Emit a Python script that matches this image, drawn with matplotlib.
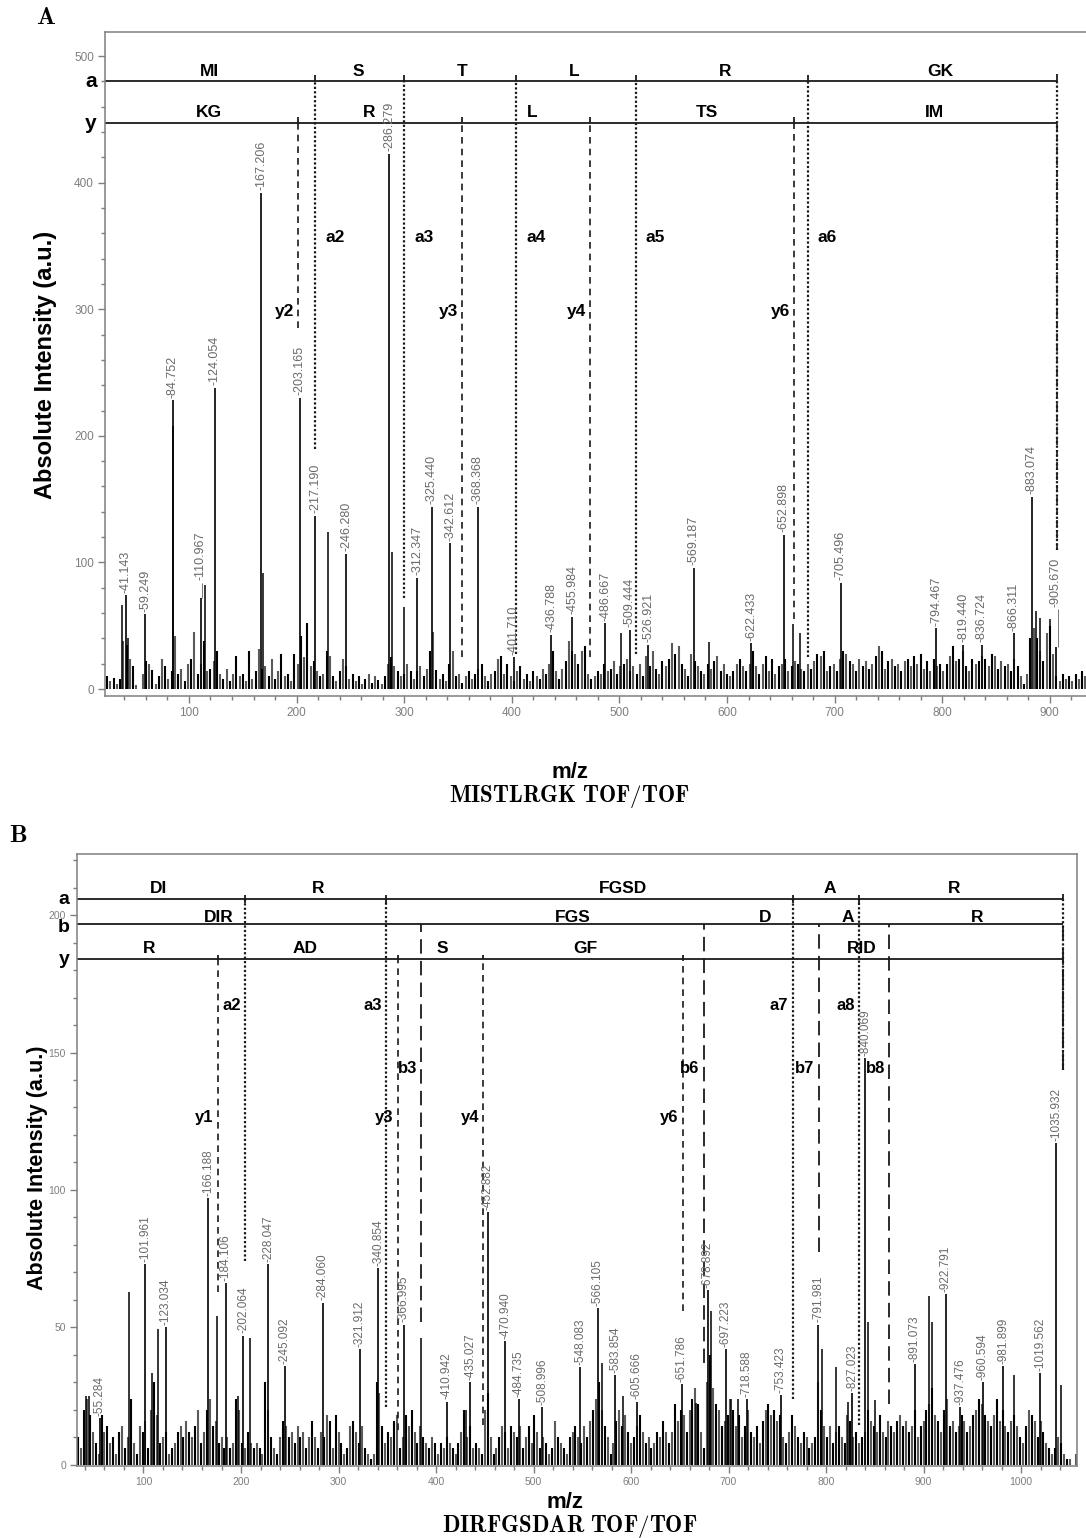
import numpy as np
import matplotlib
matplotlib.use("Agg")
import matplotlib.pyplot as plt
from matplotlib.ticker import MultipleLocator
from matplotlib.transforms import blended_transform_factory

plt.rcParams['font.family'] = ['Liberation Sans', 'DejaVu Sans']
plt.rcParams['mathtext.fontset'] = 'cm'

W, H = 1086, 1538

# ---------------- panel A : MISTLRGK ----------------
a_lab_mz = [41.143, 59.249, 84.752, 110.967, 124.054, 167.206, 203.165, 217.190, 246.280, 286.279,
            312.347, 325.440, 342.612, 368.368, 401.710, 436.788, 455.984, 486.667, 509.444, 526.921,
            569.187, 622.433, 652.898, 705.496, 794.467, 819.440, 836.724, 866.311, 883.074, 905.670]
a_lab_int = [74, 59, 228, 72, 238, 392, 230, 137, 107, 423,
             88, 144, 115, 144, 25, 43, 57, 52, 47, 35,
             96, 36, 122, 84, 48, 35, 35, 44, 152, 33]
a_oth_mz = [37.5, 43.5, 85.6, 114.8, 168.8, 209.5, 229.5, 288.5, 299.8, 501.2, 583.0, 661.0, 667.5,
            887.0, 891.0, 900.0]
a_oth_int = [66, 40, 208, 82, 92, 52, 124, 108, 65, 44, 37, 51, 44, 62, 56, 55]
# labels lifted above their peak (drawn with a leader)
a_lift_mz = [110.967, 905.670]
a_lift_y = [86, 65]
# baseline noise, every 3 m/z from 24
a_noise_start = 24
a_noise = [10, 6, 9, 4, 8, 38, 35, 24, 18, 3, 0, 12, 22, 20, 15, 4, 10, 24, 18, 8,
           14, 42, 12, 16, 6, 20, 24, 45, 12, 20, 38, 14, 16, 22, 30, 12, 8, 16, 6, 12,
           26, 10, 12, 6, 30, 8, 14, 32, 16, 18, 10, 24, 8, 14, 28, 10, 12, 6, 28, 20,
           42, 25, 52, 18, 22, 14, 10, 12, 30, 26, 10, 6, 14, 24, 18, 8, 12, 6, 10, 4,
           8, 12, 5, 10, 7, 4, 10, 20, 25, 18, 14, 10, 12, 20, 14, 8, 14, 18, 10, 16,
           30, 45, 15, 8, 12, 6, 20, 30, 10, 12, 5, 10, 14, 8, 12, 16, 20, 10, 6, 12,
           14, 24, 26, 12, 20, 10, 6, 14, 18, 8, 12, 6, 14, 10, 8, 16, 12, 20, 30, 14,
           8, 16, 22, 38, 30, 28, 20, 30, 34, 12, 8, 10, 14, 12, 20, 14, 16, 22, 12, 18,
           20, 24, 14, 18, 12, 20, 10, 26, 18, 30, 16, 12, 22, 18, 24, 36, 28, 34, 20, 16,
           10, 28, 22, 18, 14, 12, 20, 16, 22, 26, 14, 20, 12, 10, 14, 20, 24, 18, 14, 20,
           30, 18, 12, 20, 26, 14, 24, 12, 18, 20, 24, 14, 18, 22, 20, 16, 14, 20, 16, 22,
           28, 26, 30, 14, 18, 20, 14, 24, 30, 28, 22, 20, 14, 24, 18, 22, 16, 20, 26, 34,
           30, 16, 22, 24, 18, 20, 14, 22, 24, 18, 26, 20, 28, 16, 22, 14, 24, 18, 20, 14,
           20, 26, 34, 22, 24, 30, 18, 14, 24, 20, 22, 26, 24, 18, 28, 26, 16, 22, 18, 20,
           14, 24, 18, 10, 4, 12, 40, 48, 40, 30, 22, 44, 50, 28, 10, 6, 12, 8, 10, 6,
           12, 8, 14, 10]

# fragment ladder A
a_rows_y = {'a': 480, 'y': 447}
a_end = 906.7
a_ion_a_mz = [217.2, 300.0, 404.0, 515.0, 675.0]
a_ion_a_name = ['a2', 'a3', 'a4', 'a5', 'a6']
a_ion_a_low = [190, 72, 28, 28, 25]
a_ion_y_mz = [201.0, 354.0, 473.0, 662.0]
a_ion_y_name = ['y2', 'y3', 'y4', 'y6']
a_ion_y_low = [285, 25, 25, 55]
a_seq_a = ['MI', 'S', 'T', 'L', 'R', 'GK']
a_seq_a_mz = [119, 257, 354, 458, 598, 798]
a_seq_y = ['KG', 'R', 'L', 'TS', 'IM']
a_seq_y_mz = [119, 267, 419, 581, 793]

# ---------------- panel B : DIRFGSDAR ----------------
b_lab_mz = [55.284, 101.961, 123.034, 166.188, 184.106, 202.064, 228.047, 245.092, 284.060, 321.912,
            340.854, 366.995, 410.942, 435.027, 452.882, 470.940, 484.735, 508.996, 548.083, 566.105,
            583.854, 605.666, 651.786, 678.892, 697.223, 718.588, 753.423, 791.981, 827.023, 840.069,
            891.073, 922.791, 937.476, 960.594, 981.899, 1019.562, 1035.932]
b_lab_int = [17, 73, 50, 97, 66, 47, 73, 36, 59, 42,
             71.5, 51, 23, 30, 92, 45, 24, 21, 35.6, 57,
             32.7, 23, 29.5, 63.6, 42, 24, 25.5, 51, 26, 148,
             36.7, 62, 21, 30, 36, 33.5, 117]
b_oth_mz = [41.0, 44.0, 85.5, 109.0, 114.6, 175.0, 197.0, 209.5, 385.0, 431.0, 570.0, 592.0, 667.0,
            682.0, 703.0, 710.0, 740.0, 796.0, 810.0, 823.0, 843.0, 850.0, 906.0, 908.5, 993.0, 1041.0]
b_oth_int = [25, 25, 63, 33.5, 49.5, 54, 25, 46, 46, 20, 37, 25, 22.5,
             56, 24, 24, 20, 42, 35.6, 23, 52, 23.6, 61.5, 52, 32.7, 29]
b_noise_start = 33
b_noise = [10, 6, 20, 24, 18, 12, 8, 4, 18, 12, 14, 8, 10, 4, 12, 14, 6, 10, 24, 8,
           4, 14, 12, 16, 6, 20, 30, 18, 8, 10, 12, 4, 6, 8, 12, 14, 10, 16, 12, 10,
           14, 20, 8, 12, 20, 24, 14, 16, 8, 10, 6, 10, 6, 8, 24, 20, 8, 6, 12, 8,
           6, 8, 6, 4, 30, 20, 10, 6, 4, 10, 16, 14, 10, 12, 8, 14, 10, 12, 6, 10,
           16, 10, 6, 12, 10, 18, 16, 6, 18, 12, 8, 4, 6, 14, 16, 12, 8, 14, 6, 4,
           2, 4, 30, 26, 14, 8, 12, 10, 16, 18, 6, 10, 18, 14, 20, 12, 8, 14, 10, 8,
           6, 10, 8, 4, 8, 6, 10, 8, 6, 4, 8, 12, 20, 10, 14, 6, 8, 6, 4, 20,
           26, 10, 4, 6, 10, 14, 12, 6, 14, 12, 10, 14, 6, 10, 14, 8, 18, 12, 6, 10,
           8, 4, 6, 16, 10, 8, 6, 4, 10, 12, 14, 10, 8, 14, 10, 16, 20, 24, 30, 20,
           14, 10, 4, 8, 16, 20, 14, 18, 12, 8, 10, 14, 18, 12, 8, 10, 6, 8, 12, 10,
           16, 12, 8, 12, 22, 16, 20, 18, 12, 20, 24, 28, 22, 12, 6, 30, 40, 28, 22, 20,
           14, 16, 18, 24, 20, 14, 18, 10, 14, 20, 12, 10, 14, 8, 16, 20, 22, 18, 20, 16,
           18, 10, 8, 12, 18, 14, 10, 8, 12, 10, 6, 8, 10, 30, 20, 14, 10, 14, 8, 12,
           14, 10, 8, 18, 16, 10, 12, 8, 10, 12, 20, 16, 14, 12, 18, 12, 10, 16, 14, 12,
           16, 18, 14, 16, 12, 14, 20, 10, 14, 16, 20, 22, 28, 18, 16, 12, 20, 24, 14, 16,
           12, 14, 18, 16, 12, 14, 18, 20, 24, 22, 18, 16, 14, 18, 24, 16, 20, 14, 12, 16,
           18, 14, 10, 8, 14, 20, 18, 16, 10, 16, 12, 8, 6, 4, 6, 10, 8, 4, 2, 2,
           0, 4]

b_rows_y = {'a': 205.8, 'b': 196.7, 'y': 184.0}
b_end = 1043.0
b_ion_a_mz = [204.6, 348.7, 766.0, 833.8]
b_ion_a_name = ['a2', 'a3', 'a7', 'a8']
b_ion_a_low = [74, 21, 24, 14.5]
b_ion_b_mz = [385.0, 675.0, 792.8, 865.0]
b_ion_b_name = ['b3', 'b6', 'b7', 'b8']
b_ion_b_low = [52, 37, 77.5, 22]
b_ion_y_mz = [176.4, 361.0, 448.7, 653.0]
b_ion_y_name = ['y1', 'y3', 'y4', 'y6']
b_ion_y_low = [63, 12.7, 14.5, 56]
b_seq_a = ['DI', 'R', 'FGSD', 'A', 'R']
b_seq_a_mz = [115, 279.5, 592, 804, 931]
b_seq_b = ['DIR', 'FGS', 'D', 'A', 'R']
b_seq_b_mz = [177, 540.5, 737.8, 822.6, 955]
b_seq_y = ['R', 'AD', 'S', 'GF', 'RID']
b_seq_y_mz = [105.4, 265.4, 406.7, 552.8, 837]

GRAY = '#7f7f7f'
LINE = '#1a1a1a'


def px_axes(l, t, r, b):
    return [l / W, 1 - b / H, (r - l) / W, (b - t) / H]


def draw_spectrum(ax, start, noise, oth_mz, oth_int, lab_mz, lab_int, lift_mz, lift_y, gap, fs):
    nx = start + 3 * np.arange(len(noise))
    cols = ['black' if i % 2 == 0 else '#5a5a5a' for i in range(len(noise))]
    ax.vlines(nx, 0, noise, colors=cols, lw=1.5)
    ax.vlines(oth_mz, 0, oth_int, colors='black', lw=1.1)
    ax.vlines(lab_mz, 0, lab_int, colors='black', lw=1.2)
    for mz, h in zip(lab_mz, lab_int):
        base = h + gap
        if mz in lift_mz:
            base = lift_y[lift_mz.index(mz)]
            ax.vlines(mz + 1.5, h, base - gap, colors='#777777', lw=0.7)
        ax.text(mz, base, f'-{mz:.3f}', rotation=90, ha='center', va='bottom',
                fontsize=fs, color='#6a6a6a')


def style_axes(ax, xmaj, xmin, ymaj, ymin, fs):
    for s in ax.spines.values():
        s.set_color(GRAY)
        s.set_linewidth(1.1)
    ax.xaxis.set_major_locator(MultipleLocator(xmaj))
    ax.xaxis.set_minor_locator(MultipleLocator(xmin))
    ax.yaxis.set_major_locator(MultipleLocator(ymaj))
    ax.yaxis.set_minor_locator(MultipleLocator(ymin))
    ax.tick_params(which='major', direction='out', length=5, width=1, color=GRAY,
                   labelcolor=GRAY, labelsize=fs, pad=3)
    ax.tick_params(which='minor', direction='out', length=3, width=1, color=GRAY)


fig = plt.figure(figsize=(W / 100, H / 100), dpi=100)

# ================= panel A =================
axA = fig.add_axes(px_axes(105, 32, 1086, 696))
axA.set_xlim(22, 933.6)
axA.set_ylim(-5.5, 519)
style_axes(axA, 100, 20, 100, 20, 8.5)
axA.spines['right'].set_visible(False)
draw_spectrum(axA, a_noise_start, a_noise, a_oth_mz, a_oth_int, a_lab_mz, a_lab_int,
              a_lift_mz, a_lift_y, 2.0, 9)

ya, yy = a_rows_y['a'], a_rows_y['y']
axA.hlines([ya, yy], 22, a_end, colors=LINE, lw=1.3)
for mz, name, low in zip(a_ion_a_mz, a_ion_a_name, a_ion_a_low):
    axA.vlines(mz, ya, ya + 5, colors=LINE, lw=1.3)
    axA.vlines(mz, low, ya, colors=LINE, lw=1.6, linestyles=(0, (1, 1)))
    axA.text(mz + 9.5, 357, name, ha='left', va='center', fontsize=12.5, fontweight='bold')
for mz, name, low in zip(a_ion_y_mz, a_ion_y_name, a_ion_y_low):
    axA.vlines(mz, yy, yy + 5, colors=LINE, lw=1.3)
    axA.vlines(mz, low, yy, colors=LINE, lw=1.2, linestyles=(0, (4, 3)))
    axA.text(mz - 3.5, 298, name, ha='right', va='center', fontsize=12.5, fontweight='bold')
axA.vlines(a_end, ya, ya + 6, colors=LINE, lw=1.3)
axA.vlines(a_end, 110, ya, colors=LINE, lw=1.6, linestyles=(0, (1, 1)))
axA.vlines(a_end, 110, yy, colors=LINE, lw=1.2, linestyles=(0, (4, 3)))
for s, mz in zip(a_seq_a, a_seq_a_mz):
    axA.text(mz, ya + 4, s, ha='center', va='baseline', fontsize=12.5, fontweight='bold')
for s, mz in zip(a_seq_y, a_seq_y_mz):
    axA.text(mz, yy + 4.5, s, ha='center', va='baseline', fontsize=12.5, fontweight='bold')
trA = blended_transform_factory(fig.transFigure, axA.transData)
for k, v in a_rows_y.items():
    axA.text(91 / W, v, k, transform=trA, ha='center', va='center', fontsize=15,
             fontweight='bold', clip_on=False)

# ================= panel B =================
axB = fig.add_axes(px_axes(77, 854, 1077, 1466))
axB.set_xlim(31.8, 1057.4)
axB.set_ylim(-0.4, 222.2)
style_axes(axB, 100, 20, 50, 10, 7.5)
draw_spectrum(axB, b_noise_start, b_noise, b_oth_mz, b_oth_int, b_lab_mz, b_lab_int,
              [], [], 0.8, 8.5)

ra, rb, ry = b_rows_y['a'], b_rows_y['b'], b_rows_y['y']
axB.hlines([ra, rb, ry], 31.8, b_end, colors=LINE, lw=1.3)
for mz, name, low in zip(b_ion_a_mz, b_ion_a_name, b_ion_a_low):
    axB.vlines(mz, ra - 1.5, ra + 1.5, colors=LINE, lw=1.3)
    axB.vlines(mz, low, ra, colors=LINE, lw=1.6, linestyles=(0, (1, 1)))
    axB.text(mz - 4.5, 167, name, ha='right', va='center', fontsize=12, fontweight='bold')
for mz, name, low in zip(b_ion_b_mz, b_ion_b_name, b_ion_b_low):
    axB.vlines(mz, low, rb, colors=LINE, lw=1.3, linestyles=(0, (8, 4)))
    axB.text(mz - 4.5, 144, name, ha='right', va='center', fontsize=12, fontweight='bold')
for mz, name, low in zip(b_ion_y_mz, b_ion_y_name, b_ion_y_low):
    axB.vlines(mz, ry, ry + 1.6, colors=LINE, lw=1.3)
    axB.vlines(mz, low, ry, colors=LINE, lw=1.2, linestyles=(0, (4, 3)))
    axB.text(mz - 4.5, 126.5, name, ha='right', va='center', fontsize=12, fontweight='bold')
axB.vlines(b_end, ra, ra + 2, colors=LINE, lw=1.3)
axB.vlines(b_end, 143.6, ra, colors=LINE, lw=1.6, linestyles=(0, (1, 1)))
axB.vlines(b_end, 143.6, rb, colors=LINE, lw=1.3, linestyles=(0, (8, 4)))
axB.vlines(b_end, 143.6, ry, colors=LINE, lw=1.2, linestyles=(0, (4, 3)))
for s, mz in zip(b_seq_a, b_seq_a_mz):
    axB.text(mz, ra + 2.2, s, ha='center', va='baseline', fontsize=12.5, fontweight='bold')
for s, mz in zip(b_seq_b, b_seq_b_mz):
    axB.text(mz, rb + 0.6, s, ha='center', va='baseline', fontsize=12.5, fontweight='bold')
for s, mz in zip(b_seq_y, b_seq_y_mz):
    axB.text(mz, ry + 2.3, s, ha='center', va='baseline', fontsize=12.5, fontweight='bold')
trB = blended_transform_factory(fig.transFigure, axB.transData)
for k, v in b_rows_y.items():
    axB.text(64 / W, v - (1.2 if k == 'b' else 0), k, transform=trB, ha='center', va='center',
             fontsize=14, fontweight='bold', clip_on=False)

# ================= titles / labels =================
fig.text(46 / W, 1 - 17 / H, r'$\mathbf{A}$', ha='center', va='center', fontsize=18)
fig.text(18 / W, 1 - 835 / H, r'$\mathbf{B}$', ha='center', va='center', fontsize=18)
fig.text(46 / W, 1 - 365 / H, 'Absolute Intensity (a.u.)', rotation=90, ha='center',
         va='center', fontsize=17, fontweight='bold')
fig.text(38 / W, 1 - 1168 / H, 'Absolute Intensity (a.u.)', rotation=90, ha='center',
         va='center', fontsize=15.5, fontweight='bold')
fig.text(570 / W, 1 - 773 / H, 'm/z', ha='center', va='center', fontsize=16, fontweight='bold')
fig.text(569 / W, 1 - 797 / H, r'$\mathbf{MISTLRGK\ TOF/TOF}$', ha='center', va='center',
         fontsize=16.5)
fig.text(565 / W, 1 - 1503 / H, 'm/z', ha='center', va='center', fontsize=16, fontweight='bold')
fig.text(570 / W, 1 - 1527 / H, r'$\mathbf{DIRFGSDAR\ TOF/TOF}$', ha='center', va='center',
         fontsize=16.5)

fig.savefig('out.png', dpi=100)
